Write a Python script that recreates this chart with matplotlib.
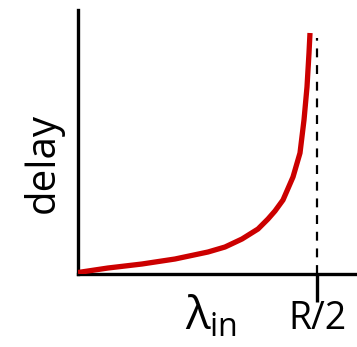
import matplotlib.pyplot as plt

plt.rcParams['font.family'] = ['Open Sans', 'DejaVu Sans']
plt.rcParams['mathtext.fontset'] = 'custom'
plt.rcParams['mathtext.rm'] = 'Open Sans'
plt.rcParams['mathtext.it'] = 'Open Sans'

# curve (arbitrary units, x up to R/2 = 239)
lam = [0, 30, 64, 97, 130, 147, 164, 180, 190, 197, 205, 215, 222, 226, 229, 231, 232]
delay = [1.5, 6, 10, 15, 22, 27, 35, 45, 55, 63, 74, 97, 121, 154, 187, 221, 241]
r_half = 239
r_label = 'R/2'

fig = plt.figure(figsize=(3.57, 3.47), dpi=100)
ax = fig.add_axes([78/357, 73/347, 279/357, 264/347])

ax.plot(lam, delay, color='#cc0000', lw=3.8, solid_capstyle='butt',
        solid_joinstyle='round', zorder=3)
ax.plot([r_half, r_half], [0, 236], color='black', lw=1.6, ls=(0, (4, 3.5)))

ax.set_xlim(0, 279)
ax.set_ylim(0, 264)
for s in ['top', 'right']:
    ax.spines[s].set_visible(False)
for s in ['left', 'bottom']:
    ax.spines[s].set_linewidth(2.4)
ax.set_yticks([])
ax.set_xticks([r_half])
ax.set_xticklabels([r_label], fontsize=27)
ax.tick_params(axis='x', length=20, width=2.4, direction='out', pad=-1)

fig.text(0.12, 0.53, 'delay', rotation=90, fontsize=29, ha='center', va='center')
fig.text(0.59, 0.085, r'$\lambda_{\mathrm{in}}$', fontsize=33, ha='center', va='center')

fig.savefig('out.png', dpi=100)
